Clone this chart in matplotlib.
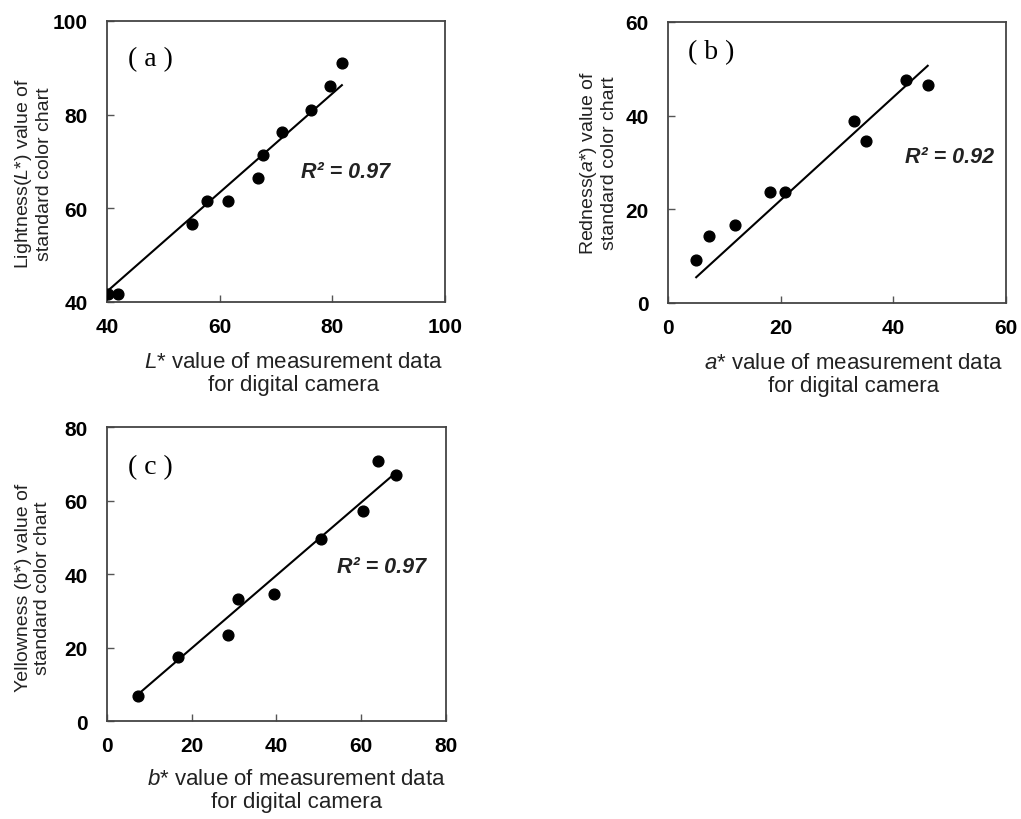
import numpy as np
import matplotlib
matplotlib.use("Agg")
from matplotlib import pyplot as plt

plt.rcParams['font.family'] = ['Liberation Sans', 'DejaVu Sans']
plt.rcParams['mathtext.fontset'] = 'custom'
plt.rcParams['mathtext.it'] = 'Liberation Sans:italic'
plt.rcParams['mathtext.rm'] = 'Liberation Sans'

# (a) L*
camara_L = [40.2, 42.0, 55.1, 57.8, 61.5, 66.8, 67.7, 71.1, 76.2, 79.6, 81.7]
carta_L = [41.7, 41.7, 56.7, 61.6, 61.6, 66.5, 71.4, 76.3, 81.0, 86.1, 91.1]
# (b) a*
camara_a = [5.0, 7.2, 11.8, 18.1, 20.7, 33.1, 35.1, 42.3, 46.1]
carta_a = [9.2, 14.2, 16.7, 23.8, 23.6, 38.8, 34.5, 47.7, 46.6]
# (c) b*
camara_b = [7.2, 16.8, 28.6, 30.8, 39.5, 50.5, 60.3, 63.9, 68.2]
carta_b = [6.7, 17.5, 23.4, 33.2, 34.6, 49.5, 57.1, 70.7, 66.9]

etiquetas = ['( a )', '( b )', '( c )']
r2 = ['0.97', '0.92', '0.97']
xlabels = [r'$\mathit{L}$* value of measurement data' + '\nfor digital camera',
           r'$\mathit{a}$* value of measurement data' + '\nfor digital camera',
           r'$\mathit{b}$* value of measurement data' + '\nfor digital camera']
ylabels = [r'Lightness($\mathit{L}$*) value of' + '\nstandard color chart',
           r'Redness($\mathit{a}$*) value of' + '\nstandard color chart',
           'Yellowness (b*) value of\nstandard color chart']
limites = [(40, 100), (0, 60), (0, 80)]

fig = plt.figure(figsize=(10.21, 8.2), dpi=100)
ax_a = fig.add_axes([0.1048, 0.6305, 0.331, 0.3427])
ax_b = fig.add_axes([0.6543, 0.6293, 0.331, 0.3427])
ax_c = fig.add_axes([0.1048, 0.1195, 0.332, 0.3585])

datos = [(ax_a, camara_L, carta_L), (ax_b, camara_a, carta_a), (ax_c, camara_b, carta_b)]
# posiciones de textos (fracciones de ejes)
pos_r2 = [(0.707, 0.463), (0.834, 0.523), (0.811, 0.527)]
pos_xl = [(0.553, -0.253), (0.55, -0.253), (0.56, -0.235)]
pos_yl = [(-0.219, 0.46), (-0.207, 0.5), (-0.218, 0.455)]
pos_et = [(0.062, 0.865), (0.058, 0.893), (0.062, 0.864)]

for i, (ax, x, y) in enumerate(datos):
    x = np.array(x)
    y = np.array(y)
    lo, hi = limites[i]
    # linea de tendencia que pasa por el origen
    m = np.sum(x * y) / np.sum(x * x)
    xs = np.array([x.min(), x.max()])
    ax.plot(xs, m * xs, color='black', lw=1.5, zorder=2)
    ax.scatter(x, y, s=60, color='black', zorder=3)
    ax.set_xlim(lo, hi)
    ax.set_ylim(lo, hi)
    ticks = np.arange(lo, hi + 1, 20)
    ax.set_xticks(ticks)
    ax.set_yticks(ticks)
    ax.tick_params(direction='in', length=5, width=1, color='#555555', labelsize=15)
    ax.tick_params(axis='x', pad=11)
    ax.tick_params(axis='y', pad=14)
    for lab in ax.get_xticklabels() + ax.get_yticklabels():
        lab.set_fontweight('bold')
    for s in ax.spines.values():
        s.set_color('#444444')
        s.set_linewidth(1.3)
    ax.set_xlabel(xlabels[i], fontsize=16, va='center', linespacing=1.1, color='#222222')
    ax.xaxis.set_label_coords(*pos_xl[i])
    ax.set_ylabel(ylabels[i], fontsize=14, va='center', linespacing=1.15, color='#222222')
    ax.yaxis.set_label_coords(*pos_yl[i])
    ax.text(pos_r2[i][0], pos_r2[i][1], 'R² = ' + r2[i], transform=ax.transAxes,
            ha='center', va='center', fontsize=15.5, fontweight='bold', style='italic', color='#222222')
    ax.text(pos_et[i][0], pos_et[i][1], etiquetas[i], transform=ax.transAxes, ha='left', va='center',
            fontsize=20, family=['Liberation Serif', 'DejaVu Serif'])

fig.savefig('out.png', dpi=100)
